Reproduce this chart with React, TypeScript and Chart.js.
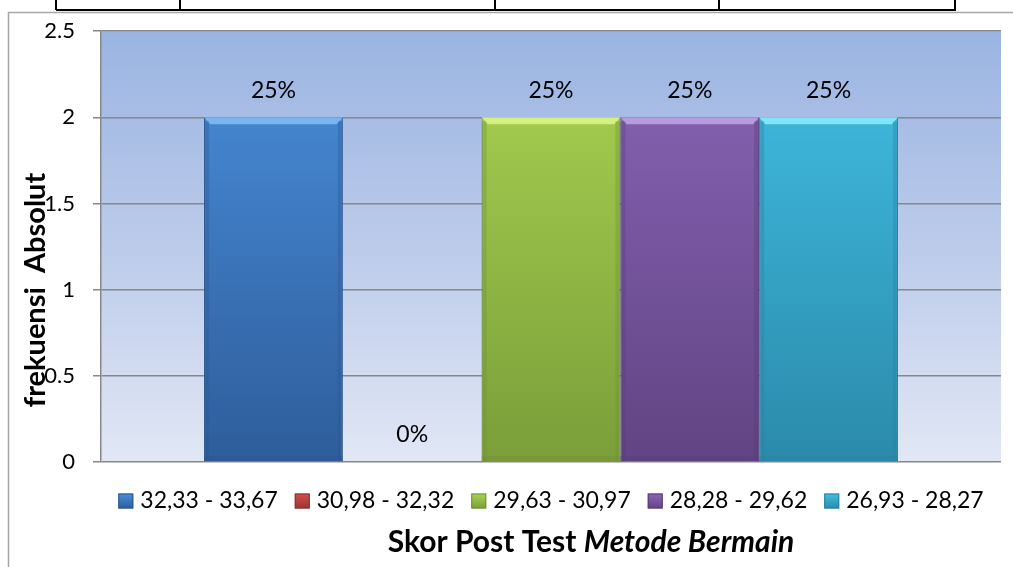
import React, { useEffect, useRef } from 'react';
import { Chart, registerables } from 'chart.js';

Chart.register(...registerables);

const categories = [''];
const seriesLabels = ['32,33 - 33,67', '30,98 - 32,32', '29,63 - 30,97', '28,28 - 29,62', '26,93 - 28,27'];
const seriesValues = [2, 0, 2, 2, 2];
const percentLabels = ['25%', '0%', '25%', '25%', '25%'];
const yTickLabels = ['0', '0.5', '1', '1.5', '2', '2.5'];
const yTitle = 'frekuensi  Absolut';
const xTitleNormal = 'Skor Post Test ';
const xTitleItalic = 'Metode Bermain';

const barTopColors = ['#4a8fdc', '#d0504d', '#a9d452', '#8a66b8', '#41c0e4'];
const barBottomColors = ['#2e5d9b', '#9a3532', '#7b9e39', '#614483', '#2b8aab'];
const barEdgeColors = ['#2a5590', '#8c2f2c', '#6f9033', '#573c78', '#27809f'];
const barHighlightColors = ['#79b6f0', '#e88a88', '#d4f07e', '#b79ae0', '#7ee6f8'];
const legendFill = ['#3a72bc', '#c0413e', '#92ba45', '#75559e', '#36a6c8'];

const FONT = 'Lato, "Open Sans", sans-serif';

const decorPlugin = {
  id: 'decor',
  beforeDraw(chart: any) {
    const { ctx, chartArea } = chart;
    ctx.save();
    ctx.fillStyle = '#ffffff';
    ctx.fillRect(0, 0, chart.width, chart.height);
    ctx.strokeStyle = '#000000';
    ctx.lineWidth = 2;
    ctx.beginPath();
    ctx.moveTo(56, 10);
    ctx.lineTo(956, 10);
    [56, 180, 495, 719, 955].forEach((x) => {
      ctx.moveTo(x, 0);
      ctx.lineTo(x, 10);
    });
    ctx.stroke();
    ctx.strokeStyle = '#a6a6a6';
    ctx.lineWidth = 1.5;
    ctx.beginPath();
    ctx.moveTo(8.5, chart.height + 2);
    ctx.lineTo(8.5, 12.5);
    ctx.lineTo(chart.width + 2, 12.5);
    ctx.stroke();
    if (chartArea) {
      const g = ctx.createLinearGradient(0, chartArea.top, 0, chartArea.bottom);
      g.addColorStop(0, '#9ab4e2');
      g.addColorStop(0.5, '#bccbea');
      g.addColorStop(1, '#e1e7f5');
      ctx.fillStyle = g;
      ctx.fillRect(chartArea.left, chartArea.top, chartArea.right - chartArea.left, chartArea.bottom - chartArea.top);
    }
    ctx.restore();
  },
  afterDatasetsDraw(chart: any) {
    const { ctx } = chart;
    ctx.save();
    chart.data.datasets.forEach((ds: any, i: number) => {
      const meta = chart.getDatasetMeta(i);
      meta.data.forEach((bar: any) => {
        const w = bar.width;
        const h = bar.base - bar.y;
        if (h < 4) return;
        const l = bar.x - w / 2;
        const r = bar.x + w / 2;
        const t = bar.y;
        const b = bar.base;
        ctx.fillStyle = barHighlightColors[i];
        ctx.beginPath();
        ctx.moveTo(l, t);
        ctx.lineTo(r, t);
        ctx.lineTo(r - 6, t + 7);
        ctx.lineTo(l + 6, t + 7);
        ctx.closePath();
        ctx.fill();
        ctx.globalAlpha = 0.35;
        ctx.fillStyle = barEdgeColors[i];
        ctx.fillRect(l, t + 4, 5, h - 4);
        ctx.fillRect(r - 5, t + 4, 5, h - 4);
        ctx.fillRect(l, b - 5, w, 5);
        ctx.globalAlpha = 1;
      });
    });
    ctx.fillStyle = '#000000';
    ctx.font = `23px ${FONT}`;
    ctx.textAlign = 'center';
    ctx.textBaseline = 'middle';
    chart.data.datasets.forEach((ds: any, i: number) => {
      const meta = chart.getDatasetMeta(i);
      meta.data.forEach((bar: any) => {
        ctx.fillText(percentLabels[i], bar.x, bar.y - 27);
      });
    });
    ctx.restore();
  },
  afterDraw(chart: any) {
    const { ctx, chartArea } = chart;
    ctx.save();
    ctx.font = `23px ${FONT}`;
    ctx.textBaseline = 'middle';
    ctx.textAlign = 'left';
    const box = 15;
    const boxGap = 7;
    const itemGap = 17;
    const widths = chart.data.datasets.map((ds: any) => box + boxGap + ctx.measureText(ds.label).width);
    const total = widths.reduce((a: number, b: number) => a + b, 0) + itemGap * (widths.length - 1);
    let x = (chartArea.left + chartArea.right) / 2 - total / 2;
    const cy = 501;
    chart.data.datasets.forEach((ds: any, i: number) => {
      const g = ctx.createLinearGradient(0, cy - box / 2, 0, cy + box / 2);
      g.addColorStop(0, barTopColors[i]);
      g.addColorStop(1, barBottomColors[i]);
      ctx.fillStyle = g;
      ctx.fillRect(x, cy - box / 2, box, box);
      ctx.strokeStyle = barEdgeColors[i];
      ctx.lineWidth = 1;
      ctx.strokeRect(x + 0.5, cy - box / 2 + 0.5, box - 1, box - 1);
      ctx.fillStyle = '#000000';
      ctx.fillText(ds.label, x + box + boxGap, cy);
      x += widths[i] + itemGap;
    });
    ctx.restore();

    ctx.save();
    ctx.fillStyle = '#000000';
    ctx.font = `bold 29px ${FONT}`;
    ctx.textAlign = 'center';
    ctx.textBaseline = 'middle';
    ctx.translate(36, 290);
    ctx.rotate(-Math.PI / 2);
    ctx.fillText(yTitle, 0, 0);
    ctx.restore();

    ctx.save();
    ctx.fillStyle = '#000000';
    ctx.textBaseline = 'alphabetic';
    ctx.textAlign = 'left';
    const f1 = `bold 30px ${FONT}`;
    const f2 = `italic bold 30px ${FONT}`;
    ctx.font = f1;
    const w1 = ctx.measureText(xTitleNormal).width;
    ctx.font = f2;
    const w2 = ctx.measureText(xTitleItalic).width;
    const start = 591 - (w1 + w2) / 2;
    ctx.font = f1;
    ctx.fillText(xTitleNormal, start, 552);
    ctx.font = f2;
    ctx.fillText(xTitleItalic, start + w1, 552);
    ctx.restore();
  },
};

export default function App() {
  const ref = useRef<HTMLCanvasElement>(null);
  useEffect(() => {
    if (!ref.current) return;
    const chart = new Chart(ref.current, {
      type: 'bar',
      data: {
        labels: categories,
        datasets: seriesLabels.map((label, i) => ({
          label,
          data: [seriesValues[i]],
          backgroundColor: (c: any) => {
            const area = c.chart.chartArea;
            if (!area) return legendFill[i];
            const g = c.chart.ctx.createLinearGradient(0, area.top, 0, area.bottom);
            g.addColorStop(0, barTopColors[i]);
            g.addColorStop(1, barBottomColors[i]);
            return g;
          },
          borderColor: barEdgeColors[i],
          borderWidth: 1,
          barPercentage: 1,
          categoryPercentage: 0.771,
        })),
      },
      options: {
        responsive: false,
        animation: false,
        layout: { padding: { left: 0, top: 31, right: 12, bottom: 95 } },
        scales: {
          x: {
            ticks: { display: false },
            grid: { display: false },
            border: { display: false },
            afterFit: (s: any) => {
              s.height = 10;
            },
          },
          y: {
            min: 0,
            max: 2.5,
            ticks: {
              stepSize: 0.5,
              padding: 18,
              color: '#000000',
              font: { family: FONT, size: 22 },
              callback: (v: any) => yTickLabels[Math.round(Number(v) / 0.5)],
            },
            grid: { color: '#878787', lineWidth: 1.5, tickLength: 8, drawTicks: true },
            border: { display: true, color: '#878787', width: 1.5 },
            afterFit: (s: any) => {
              s.width = 101;
            },
          },
        },
        plugins: {
          tooltip: { enabled: false },
          legend: { display: false },
        },
      } as any,
      plugins: [decorPlugin],
    });
    return () => chart.destroy();
  }, []);
  return (
    <div style={{ position: 'absolute', left: 0, top: 0, width: 1013, height: 567 }}>
      <canvas ref={ref} width={1013} height={567} />
    </div>
  );
}
